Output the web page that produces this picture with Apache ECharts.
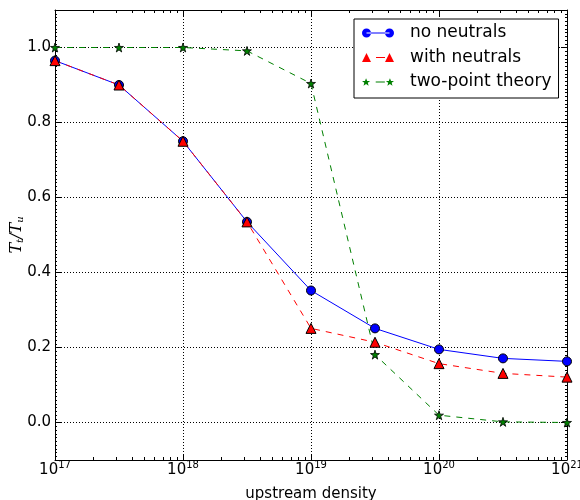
<!DOCTYPE html>
<html>
<head>
<meta charset="utf-8">
<script src="https://cdn.jsdelivr.net/npm/echarts@6/dist/echarts.min.js"></script>
<style>
html,body{margin:0;padding:0;background:#fff;}
#chart{width:580px;height:500px;}
</style>
</head>
<body>
<div id="chart"></div>
<script>
// ---- data ----
const densities = [1e17, 3.162e17, 1e18, 3.162e18, 1e19, 3.162e19, 1e20, 3.162e20, 1e21];
const noNeutrals = [0.965, 0.900, 0.750, 0.535, 0.352, 0.251, 0.195, 0.171, 0.163];
const withNeutrals = [0.965, 0.900, 0.750, 0.535, 0.251, 0.214, 0.157, 0.131, 0.121];
const twoPoint = [1.000, 1.000, 1.000, 0.991, 0.904, 0.181, 0.0195, 0.0017, 0.000];
const seriesNames = ['no neutrals', 'with neutrals', 'two-point theory'];
const yTickValues = [0.0, 0.2, 0.4, 0.6, 0.8, 1.0];

// minor log tick positions (as log10 values) for decoration axes
const minorLogTicks = [];
for (let e = 17; e < 21; e++) {
  for (let k = 2; k <= 9; k++) minorLogTicks.push(e + Math.log10(k));
}

function pairs(xs, ys) { return xs.map((x, i) => [x, ys[i]]); }

const FONT = 'DejaVu Sans';
const STAR = 'path://M50,0 L61,35 L98,35 L68,57 L79,91 L50,70 L21,91 L32,57 L2,35 L39,35 Z';

const iconCircle = 'path://M0,4.5a4.5,4.5 0 1,0 9,0a4.5,4.5 0 1,0 -9,0zM4.5,4h23v1h-23zM23,4.5a4.5,4.5 0 1,0 9,0a4.5,4.5 0 1,0 -9,0z';
const iconTri = 'path://M0,9L4.5,0L9,9ZM14,4h9v1h-9zM23,9L27.5,0L32,9Z';
const iconStar = 'path://M4.5,1L5.6,3.6L8.5,3.6L6.2,5.4L7,8.2L4.5,6.6L2,8.2L2.8,5.4L0.5,3.6L3.4,3.6ZM14,4.2h9v0.8h-9zM28,1L29.1,3.6L32,3.6L29.7,5.4L30.5,8.2L28,6.6L25.5,8.2L26.3,5.4L24,3.6L26.9,3.6Z';

const chart = echarts.init(document.getElementById('chart'), null, {renderer: 'canvas'});

const axisLineStyle = {show: true, onZero: false, lineStyle: {color: '#000', width: 1}};

const option = {
  animation: false,
  backgroundColor: '#fff',
  grid: {left: 55, right: 13, top: 10, bottom: 40, containLabel: false, outerBoundsMode: 'none'},
  legend: {
    left: 354, top: 19,
    orient: 'vertical',
    backgroundColor: '#fff',
    borderColor: '#000',
    borderWidth: 1,
    borderRadius: 0,
    padding: [5, 7, 7, 8],
    itemWidth: 32, itemHeight: 9,
    itemGap: 6.5,
    itemStyle: {borderWidth: 0},
    textStyle: {fontFamily: FONT, fontSize: 17, color: '#000', lineHeight: 18, padding: [0, 0, 0, 11]},
    data: [
      {name: seriesNames[0], icon: iconCircle},
      {name: seriesNames[1], icon: iconTri},
      {name: seriesNames[2], icon: iconStar}
    ]
  },
  xAxis: [
    {
      type: 'log', logBase: 10, min: 1e17, max: 1e21, position: 'bottom',
      name: 'upstream density', nameLocation: 'middle', nameGap: 27,
      nameTextStyle: {fontFamily: FONT, fontSize: 15, color: '#000'},
      axisLine: axisLineStyle,
      axisTick: {show: true, inside: true, length: 6, lineStyle: {color: '#000'}},
      axisLabel: {
        margin: 3,
        formatter: v => '{b|10}{s|' + Math.round(Math.log10(v)) + '}',
        rich: {
          b: {fontFamily: FONT, fontSize: 15, lineHeight: 15, color: '#000', verticalAlign: 'bottom'},
          s: {fontFamily: FONT, fontSize: 10, lineHeight: 10, color: '#000', verticalAlign: 'bottom', padding: [0, 0, 8, 0]}
        }
      },
      splitLine: {show: true, lineStyle: {color: '#000', type: [1, 2], width: 1}}
    },
    {
      type: 'log', logBase: 10, min: 1e17, max: 1e21, position: 'top',
      axisLine: axisLineStyle,
      axisTick: {show: true, inside: true, length: 6, lineStyle: {color: '#000'}},
      axisLabel: {show: false},
      splitLine: {show: false}
    },
    {
      type: 'value', min: 17, max: 21, position: 'bottom',
      axisLine: {show: false, onZero: false},
      axisTick: {show: true, inside: true, length: 3, customValues: minorLogTicks, lineStyle: {color: '#000'}},
      axisLabel: {show: false},
      splitLine: {show: false}
    },
    {
      type: 'value', min: 17, max: 21, position: 'top',
      axisLine: {show: false, onZero: false},
      axisTick: {show: true, inside: true, length: 3, customValues: minorLogTicks, lineStyle: {color: '#000'}},
      axisLabel: {show: false},
      splitLine: {show: false}
    }
  ],
  yAxis: [
    {
      type: 'value', min: -0.1, max: 1.1, position: 'left',
      name: '{i|T}{s|t}{i|/T}{s|u}', nameLocation: 'middle', nameGap: 30, nameRotate: 90,
      nameMoveOverlap: false,
      nameTextStyle: {
        rich: {
          i: {fontFamily: 'DejaVu Serif', fontStyle: 'italic', fontSize: 16, lineHeight: 16, color: '#000', verticalAlign: 'top'},
          s: {fontFamily: 'DejaVu Serif', fontStyle: 'italic', fontSize: 10, lineHeight: 10, color: '#000', verticalAlign: 'top', padding: [6, 0, 0, 0]}
        }
      },
      axisLine: axisLineStyle,
      axisTick: {show: true, inside: true, length: 6, customValues: yTickValues, lineStyle: {color: '#000'}},
      minorTick: {show: true, splitNumber: 20, length: 2, lineStyle: {color: '#000'}},
      axisLabel: {
        margin: 4, customValues: yTickValues,
        formatter: v => v.toFixed(1),
        fontFamily: FONT, fontSize: 15, color: '#000'
      },
      splitLine: {show: true, lineStyle: {color: '#000', type: [1, 2], width: 1}}
    },
    {
      type: 'value', min: -0.1, max: 1.1, position: 'right',
      axisLine: axisLineStyle,
      axisTick: {show: true, inside: true, length: 6, customValues: yTickValues, lineStyle: {color: '#000'}},
      minorTick: {show: true, splitNumber: 20, length: 2, lineStyle: {color: '#000'}},
      axisLabel: {show: false},
      splitLine: {show: false}
    }
  ],
  series: [
    {
      name: seriesNames[0], type: 'line', xAxisIndex: 0, yAxisIndex: 0,
      data: pairs(densities, noNeutrals),
      symbol: 'circle', symbolSize: 9, showSymbol: true,
      lineStyle: {color: '#0000ff', width: 1},
      itemStyle: {color: '#0000ff', borderColor: '#000', borderWidth: 1},
      emphasis: {disabled: true}
    },
    {
      name: seriesNames[1], type: 'line', xAxisIndex: 0, yAxisIndex: 0,
      data: pairs(densities, withNeutrals),
      symbol: 'triangle', symbolSize: 10, showSymbol: true,
      lineStyle: {color: '#ff0000', width: 1, type: [6, 6]},
      itemStyle: {color: '#ff0000', borderColor: '#000', borderWidth: 1},
      emphasis: {disabled: true}
    },
    {
      name: seriesNames[2], type: 'line', xAxisIndex: 0, yAxisIndex: 0,
      data: pairs(densities, twoPoint),
      symbol: STAR, symbolSize: 9, showSymbol: true,
      lineStyle: {color: '#008000', width: 1, type: [6, 6]},
      itemStyle: {color: '#008000', borderColor: '#000', borderWidth: 0.8},
      emphasis: {disabled: true}
    }
  ]
};
chart.setOption(option);
</script>
</body>
</html>
